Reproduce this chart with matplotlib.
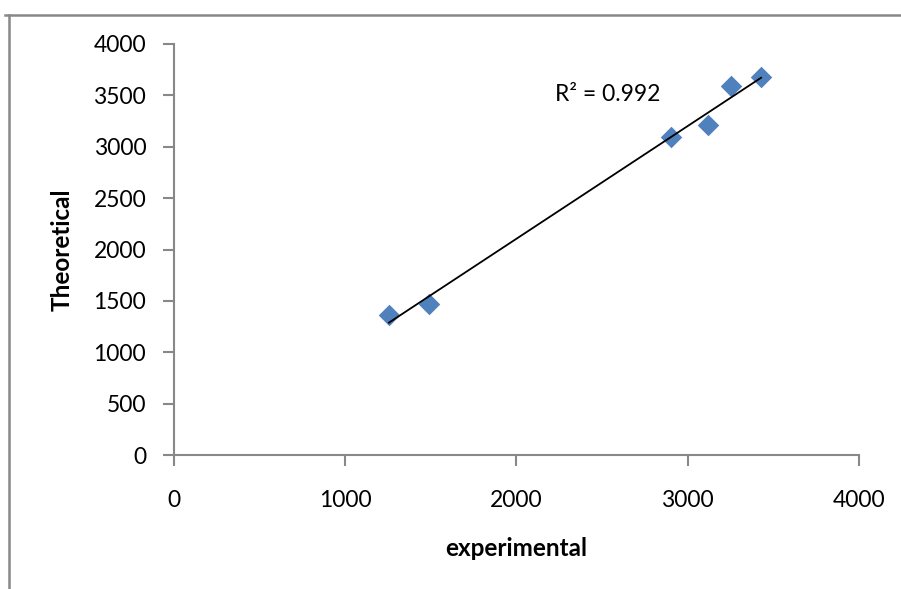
import numpy as np
import matplotlib
matplotlib.use("Agg")
import matplotlib.pyplot as plt
from matplotlib.lines import Line2D

# data
experimental = [1255, 1489, 2902, 3118, 3253, 3428]
theoretical = [1362, 1470, 3095, 3212, 3591, 3679]
r_squared = 0.992
ticks = [0, 1000, 2000, 3000, 4000]
yticks = [0, 500, 1000, 1500, 2000, 2500, 3000, 3500, 4000]

plt.rcParams["font.family"] = ["Lato", "DejaVu Sans"]

fig = plt.figure(figsize=(9.01, 5.89), dpi=100)
ax = fig.add_axes([0.1931, 0.2275, 0.7603, 0.6978])

x = np.array(experimental)
y = np.array(theoretical)
ax.scatter(x, y, marker="D", s=120, color="#4F81BD", zorder=3, linewidths=0)

# linear trendline across the data range
slope, icpt = np.polyfit(x, y, 1)
xs = np.array([x.min(), x.max()])
ax.plot(xs, slope * xs + icpt, color="black", lw=1.3, zorder=4)

ax.text(2225, 3504, "R² = %.3f" % r_squared, fontsize=16.5, va="center", ha="left")

ax.set_xlim(0, 4000)
ax.set_ylim(0, 4000)
ax.set_xticks(ticks)
ax.set_yticks(yticks)
ax.tick_params(axis="both", direction="out", length=8, color="#888888", width=1.5,
               labelsize=16.5)
ax.tick_params(axis="x", pad=17)
ax.tick_params(axis="y", pad=12)
for s in ["top", "right"]:
    ax.spines[s].set_visible(False)
for s in ["left", "bottom"]:
    ax.spines[s].set_color("#888888")
    ax.spines[s].set_linewidth(1.5)

ax.set_xlabel("experimental", fontsize=17.5, fontweight="bold")
ax.set_ylabel("Theoretical", fontsize=17.5, fontweight="bold")
ax.xaxis.set_label_coords(0.5, -0.2287)
ax.yaxis.set_label_coords(-0.1635, 0.5)
ax.xaxis.label.set_va("center")
ax.yaxis.label.set_va("center")

# chart area border (only top and left visible)
fig.add_artist(Line2D([0.0055, 1.0], [0.975, 0.975], transform=fig.transFigure,
                      color="#888888", lw=1.8))
fig.add_artist(Line2D([0.0100, 0.0100], [0.0, 0.975], transform=fig.transFigure,
                      color="#888888", lw=1.8))

fig.savefig("out.png", dpi=100)
